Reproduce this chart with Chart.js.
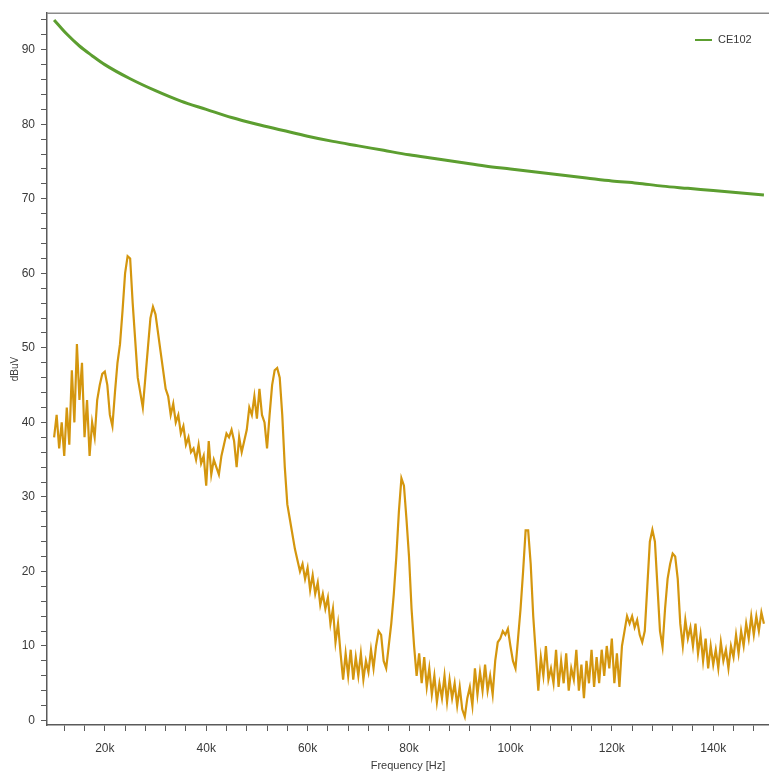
<!DOCTYPE html>
<html>
<head>
  <title>CE102 Conducted Emissions</title>
  <script src="https://cdn.jsdelivr.net/npm/chart.js"></script>
  <style>
    html, body { margin: 0; padding: 0; background: #fff; }
    #wrap { width: 769px; height: 773px; }
  </style>
</head>
<body>
  <div id="wrap">
    <canvas id="canvas" width="769" height="773"></canvas>
  </div>
  <script>
    // CE102 limit line (kHz, dBuV)
    var limitFreqs = [10, 12.5, 15, 17.5, 20, 25, 30, 35, 40, 45, 50, 55, 60, 65, 70, 75, 80, 85, 90, 95, 100, 105, 110, 115, 120, 125, 130, 135, 140, 145, 150];
    var limitLevels = [94, 92.1, 90.5, 89.2, 88, 86.1, 84.5, 83.1, 82, 80.9, 80, 79.2, 78.4, 77.7, 77.1, 76.5, 75.9, 75.4, 74.9, 74.4, 74, 73.6, 73.2, 72.8, 72.4, 72.1, 71.7, 71.4, 71.1, 70.8, 70.5];

    // measured trace, one sample every 0.5 kHz from 10 kHz to 150 kHz
    var traceStartKHz = 10;
    var traceStepKHz = 0.5;
    var traceLevels = [
      38, 41, 36.5, 40, 35.5, 42, 37, 47, 40, 50.5,          // 10 - 14.5
      43, 48, 38, 43, 35.5, 40, 38, 43, 45, 46.5,            // 15 - 19.5
      46.8, 45, 41, 39.5, 44, 48, 50.5, 55, 60, 62.3,        // 20 - 24.5
      62, 56, 51, 46, 44, 42, 46, 50, 54, 55.5,              // 25 - 29.5
      54.5, 52, 49.5, 47, 44.5, 43.5, 41, 42.5, 40, 41,      // 30 - 34.5
      38.5, 39.5, 37, 38, 36, 36.5, 35, 37, 34.5, 35.5,      // 35 - 39.5
      31.5, 37.5, 33, 35, 34, 33, 35.5, 37, 38.5, 38,        // 40 - 44.5
      39, 37.5, 34, 38, 36, 37.5, 39, 42, 41, 43.5,          // 45 - 49.5
      40.5, 44.5, 41, 40, 36.5, 41, 45, 47, 47.3, 46,        // 50 - 54.5
      41, 34, 29, 27, 25, 23, 21.5, 20, 21, 19,              // 55 - 59.5
      20.5, 17.5, 19.5, 17, 18.5, 15.5, 17, 15, 16.5, 13,    // 60 - 64.5
      15, 10.5, 13, 9, 5.5, 9, 6, 9.5, 5.5, 8.5,             // 65 - 69.5
      6, 9, 5.5, 8, 6.5, 9.5, 7, 10, 12, 11.5,               // 70 - 74.5
      8, 7, 10, 13, 17, 22, 28, 32.5, 31.5, 27,              // 75 - 79.5
      22, 15, 10, 6, 9, 5, 8.5, 4.5, 7, 3.5,                 // 80 - 84.5
      6, 2.5, 5, 3, 6, 2.5, 5.5, 3, 5, 2,                    // 85 - 89.5
      4.5, 1.5, 0.5, 3, 4.5, 2, 7, 3.5, 6.5, 4,              // 90 - 94.5
      7.5, 4, 6, 3.5, 8, 10.5, 11, 12, 11.5, 12.3,           // 95 - 99.5
      10, 8, 7, 11, 15, 20, 25.5, 25.5, 21, 14,              // 100 - 104.5
      9, 4, 8.5, 6, 10, 5.5, 7, 5, 9.5, 4.5,                 // 105 - 109.5
      8, 5, 9, 4, 7, 5.5, 9.5, 4, 7.5, 3,                    // 110 - 114.5
      8, 5, 9.5, 4.5, 8.5, 5, 9.5, 6, 10, 7,                 // 115 - 119.5
      11, 5, 9, 4.5, 10, 12, 14, 13, 14, 12.5,               // 120 - 124.5
      13.5, 11.5, 10.5, 12, 18, 24, 25.6, 24, 18, 12,        // 125 - 129.5
      9.9, 15, 19, 21, 22.4, 22, 19, 13, 10, 13.5,           // 130 - 134.5
      11, 12.5, 10, 13, 9, 11.5, 8, 11, 7, 10,               // 135 - 139.5
      7.5, 9.5, 7, 10.5, 8, 9.5, 7, 10, 8.5, 11.5,           // 140 - 144.5
      9, 12, 10, 13, 11, 14, 11.5, 14, 12, 14.5,             // 145 - 149.5
      13                                                     // 150
    ];

    // axis ticks: every tick mark, and the ones that carry a label
    var xTickKHz = [12, 16, 20, 24, 28, 32, 36, 40, 44, 48, 52, 56, 60, 64, 68, 72, 76, 80, 84, 88, 92, 96, 100, 104, 108, 112, 116, 120, 124, 128, 132, 136, 140, 144, 148];
    var xLabelKHz = [20, 40, 60, 80, 100, 120, 140];
    var yTicks = [0, 2, 4, 6, 8, 10, 12, 14, 16, 18, 20, 22, 24, 26, 28, 30, 32, 34, 36, 38, 40, 42, 44, 46, 48, 50, 52, 54, 56, 58, 60, 62, 64, 66, 68, 70, 72, 74, 76, 78, 80, 82, 84, 86, 88, 90, 92, 94];
    var yLabels = [0, 10, 20, 30, 40, 50, 60, 70, 80, 90];

    var limitPoints = limitFreqs.map(function (f, i) { return { x: f * 1000, y: limitLevels[i] }; });
    var tracePoints = traceLevels.map(function (v, i) { return { x: (traceStartKHz + i * traceStepKHz) * 1000, y: v }; });

    var textColor = '#3a3a3a';
    var axisColor = '#5a5a5a';
    var fontFamily = '"Liberation Sans", "DejaVu Sans", sans-serif';

    // legend drawn inside the plot, top right
    var innerLegend = {
      id: 'innerLegend',
      afterDraw: function (chart) {
        var c = chart.ctx;
        var ds = chart.data.datasets[1];
        c.save();
        c.strokeStyle = ds.borderColor;
        c.lineWidth = 2;
        c.beginPath();
        c.moveTo(695, 40);
        c.lineTo(712, 40);
        c.stroke();
        c.fillStyle = textColor;
        c.font = '11px ' + fontFamily;
        c.textBaseline = 'middle';
        c.fillText(ds.label, 718, 40);
        c.restore();
      }
    };

    // grey frame line along the top of the plot
    var topFrame = {
      id: 'topFrame',
      afterDraw: function (chart) {
        var a = chart.chartArea;
        var c = chart.ctx;
        c.save();
        c.strokeStyle = '#8a8a8a';
        c.lineWidth = 1.5;
        c.beginPath();
        c.moveTo(a.left, a.top);
        c.lineTo(a.right, a.top);
        c.stroke();
        c.restore();
      }
    };

    var config = {
      type: 'line',
      data: {
        datasets: [{
          label: 'Measured',
          data: tracePoints,
          borderColor: '#d4960e',
          borderWidth: 2.2,
          pointRadius: 0,
          fill: false,
          tension: 0
        }, {
          label: 'CE102',
          data: limitPoints,
          borderColor: '#5c9e30',
          borderWidth: 3,
          pointRadius: 0,
          fill: false,
          cubicInterpolationMode: 'monotone'
        }]
      },
      options: {
        responsive: false,
        animation: false,
        layout: { padding: { top: 9, right: 0, left: 0, bottom: 0 } },
        plugins: {
          legend: { display: false },
          tooltip: { enabled: false }
        },
        scales: {
          x: {
            type: 'linear',
            min: 8600,
            max: 151000,
            afterBuildTicks: function (s) {
              s.ticks = xTickKHz.map(function (k) { return { value: k * 1000 }; });
            },
            afterFit: function (s) { s.height = 48; },
            border: { display: true, color: axisColor, width: 1.5 },
            grid: {
              drawOnChartArea: false,
              drawTicks: true,
              tickLength: 6,
              color: axisColor
            },
            ticks: {
              autoSkip: false,
              maxRotation: 0,
              minRotation: 0,
              padding: 10,
              color: textColor,
              font: { family: fontFamily, size: 12 },
              callback: function (v) {
                var k = Math.round(v / 1000);
                return xLabelKHz.indexOf(k) >= 0 ? k + 'k' : '';
              }
            },
            title: {
              display: true,
              text: 'Frequency [Hz]',
              color: textColor,
              font: { family: fontFamily, size: 11 },
              padding: { top: 0, bottom: 0 }
            }
          },
          y: {
            min: -0.6,
            max: 94.9,
            afterBuildTicks: function (s) {
              s.ticks = yTicks.map(function (v) { return { value: v }; });
            },
            afterFit: function (s) { s.width = 47; },
            border: { display: true, color: axisColor, width: 1.5 },
            grid: {
              drawOnChartArea: false,
              drawTicks: true,
              tickLength: 6,
              color: axisColor
            },
            ticks: {
              autoSkip: false,
              padding: 6,
              color: textColor,
              font: { family: fontFamily, size: 12 },
              callback: function (v) { return yLabels.indexOf(v) >= 0 ? String(v) : ''; }
            },
            title: {
              display: true,
              text: 'dBuV',
              color: textColor,
              font: { family: fontFamily, size: 10 },
              padding: { top: 9, bottom: 0 }
            }
          }
        }
      },
      plugins: [innerLegend, topFrame]
    };

    var ctx = document.getElementById('canvas').getContext('2d');
    var chart = new Chart(ctx, config);
  </script>
</body>
</html>
